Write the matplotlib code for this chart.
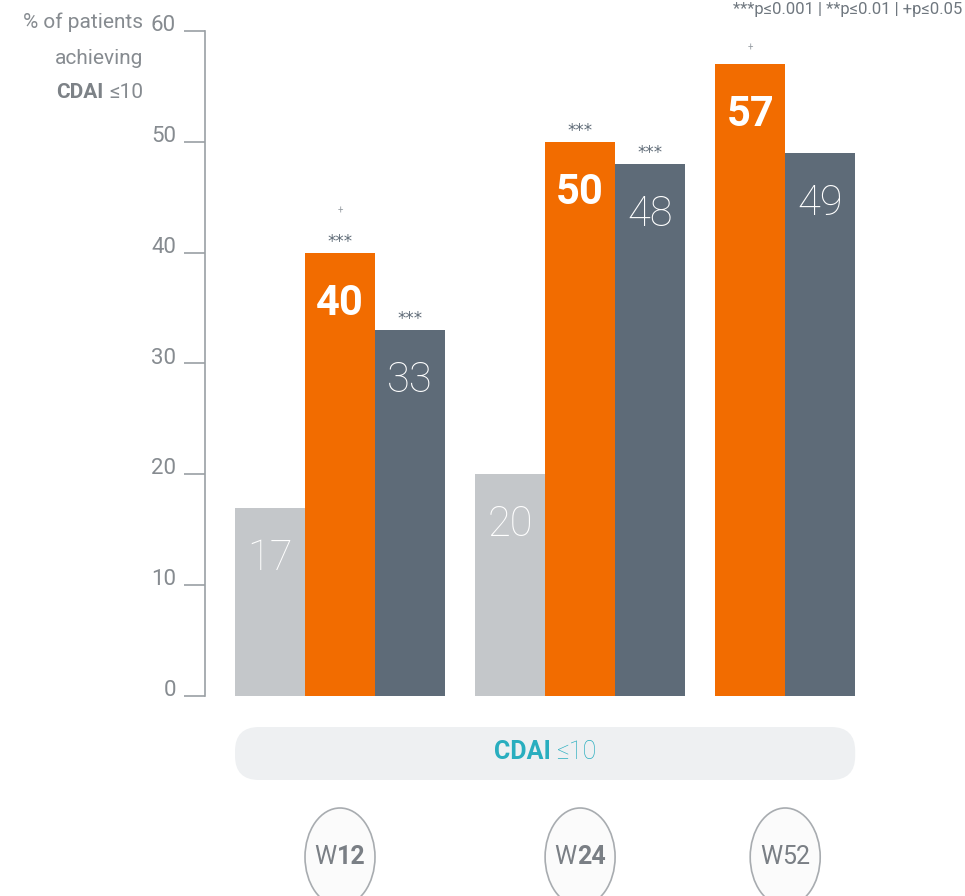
import matplotlib
matplotlib.use("Agg")
import matplotlib.pyplot as plt
from matplotlib.patches import FancyBboxPatch, Ellipse
from matplotlib.transforms import IdentityTransform

# ---------------- data ----------------
weeks = ["W12", "W24", "W52"]
week_digits_bold = [True, True, False]
placebo = [17, 20, None]
orange_vals = [40, 50, 57]
dark_vals = [33, 48, 49]
orange_stars = ["***", "***", ""]
orange_plus = ["+", "", "+"]
dark_stars = ["***", "***", ""]
yticks = [0, 10, 20, 30, 40, 50, 60]
pill_text = ("CDAI ", "\u226410")
ylabel_lines = ["% of patients", "achieving"]
ylabel_last = ("CDAI ", "\u226410")
pnote = "***p\u22640.001 | **p\u22640.01 | +p\u22640.05"

# ---------------- style ----------------
W, H, DPI = 965, 896, 100
C_LIGHT = "#c4c7ca"
C_ORANGE = "#f26c00"
C_DARK = "#5e6b78"
C_TXT = "#868b90"
C_TEAL = "#29aebf"
NUMFONT = ["Roboto", "DejaVu Sans"]
LFONT = ["Roboto", "DejaVu Sans"]

fig = plt.figure(figsize=(W / DPI, H / DPI), dpi=DPI)
fig.patch.set_facecolor("white")

def fx(x):
    return x / W

def fy(y):
    return 1 - y / H

ax_left, ax_right, ax_top, ax_bot = 205, 855, 31, 696
ax = fig.add_axes([fx(ax_left), fy(ax_bot), fx(ax_right) - fx(ax_left), fy(ax_top) - fy(ax_bot)])
ax.set_facecolor("none")

bw = 1.0
gap = 0.43
series = [(placebo, C_LIGHT, "light", None, None),
          (orange_vals, C_ORANGE, "bold", orange_stars, orange_plus),
          (dark_vals, C_DARK, "light", dark_stars, None)]

cursor = 0.0
group_centers = []
group_edges = []
for gi in range(len(weeks)):
    start = cursor
    for vals, col, wt, stars, plus in series:
        v = vals[gi]
        if v is None:
            continue
        ax.bar(cursor, v, width=bw, align="edge", color=col, linewidth=0)
        xc = cursor + bw / 2
        ax.annotate(str(v), (xc, v), xytext=(0, -30), textcoords="offset pixels",
                    ha="center", va="top", color="white", fontsize=30,
                    fontweight="bold" if wt == "bold" else "light", family=NUMFONT)
        s = stars[gi] if stars else ""
        p = plus[gi] if plus else ""
        if s:
            ax.annotate(s, (xc, v), xytext=(0, 11), textcoords="offset pixels",
                        ha="center", va="center", color="#5f6b77", fontsize=12,
                        family=["DejaVu Sans"], annotation_clip=False)
        if p:
            off = 42 if s else 17
            ax.annotate(p, (xc, v), xytext=(0, off), textcoords="offset pixels",
                        ha="center", va="center", color="#9aa0a6", fontsize=7,
                        family=LFONT, annotation_clip=False)
        cursor += bw
    group_edges.append((start, cursor))
    group_centers.append((start + cursor) / 2)
    cursor += gap

ax.set_xlim((ax_left - 235) / 70.0, (ax_right - 235) / 70.0)
ax.set_ylim(0, 60)

for sp in ["top", "right", "bottom"]:
    ax.spines[sp].set_visible(False)
ax.spines["left"].set_color("#9a9fa4")
ax.spines["left"].set_linewidth(1.2)
ax.set_xticks([])
ax.set_yticks(yticks)
ax.set_yticklabels([str(t) for t in yticks], family=LFONT, fontweight="normal",
                   fontsize=16, color=C_TXT)
ax.tick_params(axis="y", length=15, width=1.2, color="#9a9fa4", pad=6)
for t in ax.get_yticklabels():
    t.set_va("baseline")

fig.canvas.draw()
renderer = fig.canvas.get_renderer()

def text_w(s, **kw):
    t = fig.text(0, 0, s, **kw)
    w = t.get_window_extent(renderer).width
    t.remove()
    return w

def two_part(xc, y, a, b, kwa, kwb, anchor="center", sp=0):
    """draw text a then b on one line; anchor 'center' or 'right' at xc (pixels)."""
    wa = text_w(a, **kwa)
    wb = text_w(b, **kwb)
    tot = wa + sp + wb
    xs = xc - tot / 2 if anchor == "center" else xc - tot
    fig.text(fx(xs), fy(y), a, ha="left", va="center", **kwa)
    fig.text(fx(xs + wa + sp), fy(y), b, ha="left", va="center", **kwb)

# y label
lab_kw = dict(fontsize=15, family=LFONT, fontweight="normal", color=C_TXT)
fig.text(fx(143), fy(22), ylabel_lines[0], ha="right", va="center", **lab_kw)
fig.text(fx(143), fy(58), ylabel_lines[1], ha="right", va="center", **lab_kw)
two_part(143, 93, ylabel_last[0].strip(), ylabel_last[1],
         dict(fontsize=15, family=LFONT, fontweight="bold", color="#7d8287"),
         lab_kw, anchor="right", sp=6)

# top-right note (cut off at top edge in the reference)
fig.text(fx(962), fy(2), pnote, ha="right", va="top", fontsize=12,
         family=LFONT, color="#6f777f")

def dx2px(x):
    return ax.transData.transform((x, 0))[0]

# pill
x0 = dx2px(group_edges[0][0])
x1 = dx2px(group_edges[-1][1])
py0, py1 = H - 780, H - 727
pill = FancyBboxPatch((x0, py0), x1 - x0, py1 - py0,
                      boxstyle="round,pad=0,rounding_size=24",
                      transform=IdentityTransform(), facecolor="#eef0f2",
                      edgecolor="none", zorder=0)
fig.patches.append(pill)
pc = (x0 + x1) / 2
two_part(pc, 752, pill_text[0].strip(), pill_text[1],
         dict(fontsize=18, family=LFONT, fontweight="bold", color=C_TEAL),
         dict(fontsize=18, family=LFONT, fontweight="light", color=C_TEAL), sp=6)

# week circles
for gi, wk in enumerate(weeks):
    cx = dx2px(group_centers[gi])
    e = Ellipse((cx, H - 857), 70, 98, transform=IdentityTransform(),
                facecolor="#fbfbfb", edgecolor="#a8acb0", linewidth=1.2)
    fig.patches.append(e)
    two_part(cx, 857, wk[0], wk[1:],
             dict(fontsize=18, family=LFONT, fontweight="normal", color="#7a7f85"),
             dict(fontsize=18, family=LFONT,
                  fontweight="bold" if week_digits_bold[gi] else "normal",
                  color="#7a7f85"), sp=0)

fig.savefig("out.png", dpi=DPI, facecolor="white")
